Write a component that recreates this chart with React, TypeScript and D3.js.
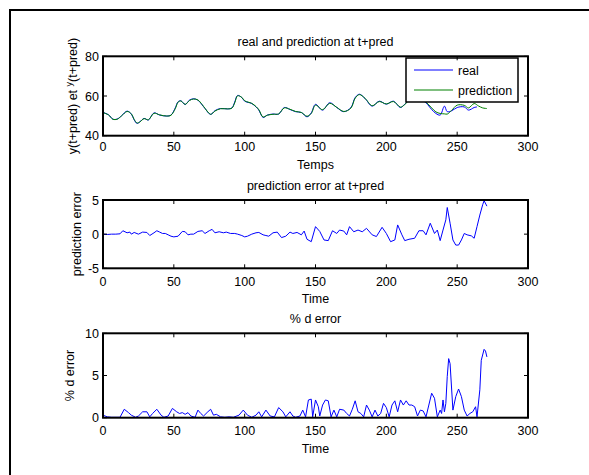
import React from "react";
import * as d3 from "d3";

// ---- data (t, value) ----
const realSeries: [number, number][] = [
  [0, 51.7], [4, 50.5], [7, 48.3], [10, 48.4], [13, 50], [17, 52.4], [20, 50.9], [22, 48], [24, 46.2],
  [26, 47], [29, 48.7], [32, 47.9], [36, 51.5], [40, 50.4], [45, 49.9], [48, 50.4], [51, 54], [53, 57.1],
  [55, 57.6], [58, 55.7], [61, 57.9], [64, 58.6], [67, 57.9], [70, 55.5], [72, 53.7], [76, 50.7],
  [79, 52.6], [83, 53.7], [88, 53.5], [91, 54], [93, 57], [95, 60.3], [98, 59.2], [100, 57.4],
  [105, 56.2], [108, 54.5], [110, 52.9], [113, 49.2], [116, 50.4], [120, 50.9], [124, 50.9],
  [128, 54.2], [132, 53.2], [136, 52.1], [140, 51.7], [144, 49.5], [147, 51.5], [150, 55.8],
  [155, 52.9], [160, 56.6], [165, 54.2], [170, 52.1], [175, 54.2], [178, 59.2], [181, 60.9],
  [185, 58.7], [190, 54.9], [195, 57.4], [200, 55.9], [205, 57.4], [210, 54.2], [213, 55.9],
  [216, 58], [219, 60], [222, 59.5], [225, 58], [228, 56.6], [232, 53.2], [235, 51.2], [238, 50.4],
  [241, 54.9], [243, 52.1], [246, 52.5], [250, 54.2], [255, 54.5], [258, 52.9], [262, 54.2], [264, 54.5],
];

const predictionSeries: [number, number][] = [
  [0, 51.7], [4, 50.4], [7, 48.3], [10, 48.3], [13, 49.9], [17, 52.2], [20, 51], [22, 48.2], [24, 46.4],
  [26, 46.9], [29, 48.6], [32, 48], [36, 51.3], [40, 50.5], [45, 49.9], [48, 50.3], [51, 53.6], [53, 56.9],
  [55, 57.5], [58, 55.8], [61, 57.7], [64, 58.5], [67, 58], [70, 55.7], [72, 53.8], [76, 50.8],
  [79, 52.4], [83, 53.6], [88, 53.5], [91, 53.9], [93, 56.6], [95, 60.1], [98, 59.3], [100, 57.6],
  [105, 56.3], [108, 54.7], [110, 53.1], [113, 49.4], [116, 50.3], [120, 50.8], [124, 51],
  [128, 54], [132, 53.3], [136, 52.2], [140, 51.7], [144, 49.8], [147, 51.2], [150, 55.4],
  [155, 53.1], [160, 56.3], [165, 54.3], [170, 52.2], [175, 53.9], [178, 58.9], [181, 60.7],
  [185, 58.8], [190, 55.1], [195, 57.2], [200, 56], [205, 57.2], [210, 54.4], [213, 55.7],
  [216, 57.8], [219, 59.8], [222, 59.6], [225, 58.2], [228, 56.9], [232, 54], [235, 52], [238, 51.2],
  [241, 51], [243, 50.9], [246, 52.7], [250, 55.4], [255, 55.3], [258, 54], [262, 56.2], [265, 55],
  [268, 54], [271, 53.7],
];

const errorSeries: [number, number][] = [
  [0, 0], [3, -0.05], [6, 0], [9, 0], [12, 0.05], [14, 0.5], [17, 0.2], [19, 0.3], [20, 0], [22, 0.25],
  [25, 0], [28, 0.3], [31, 0.25], [33, -0.2], [36, 0.2], [38, 0.5], [40, 0.3], [42, 0.1], [44, 0.1],
  [46, -0.1], [48, -0.3], [50, -0.4], [53, -0.3], [56, 0.4], [58, 0.35], [60, -0.1], [62, 0], [64, 0],
  [67, 0.4], [70, 0.5], [72, 0.1], [75, 0.5], [77, 0.7], [79, 0.2], [82, 0.35], [85, 0.2], [87, 0.3],
  [90, 0.1], [93, 0.1], [95, 0], [98, -0.2], [100, -0.4], [102, -0.3], [105, 0], [108, 0.2], [110, 0.25],
  [113, -0.1], [115, -0.2], [117, -0.3], [120, 0.2], [123, 0.3], [126, -0.5], [129, -0.3], [132, 0.3],
  [134, 0.1], [137, 0.25], [140, -0.1], [142, 0.45], [144, -0.75], [147, -1.1], [150, 1.1], [153, 0.4],
  [156, -0.85], [159, -0.95], [162, 0.5], [165, 0.1], [167, 0.6], [170, 0.45], [172, -0.1], [174, 1.1],
  [177, 0.35], [180, 0.6], [183, 0.35], [186, 0.85], [190, -0.1], [193, -0.35], [197, 1.0], [200, 0.1],
  [203, -1.1], [206, -0.85], [208, 1.35], [211, -0.1], [213, -0.95], [216, -0.75], [220, -0.6],
  [223, 0.5], [226, 0.5], [228, -0.1], [231, 1.6], [234, 0.1], [236, 0.6], [238, -0.95], [240, 0.6],
  [242, 2.1], [243, 3.9], [245, 1.6], [247, -0.85], [249, -1.6], [251, -1.6], [253, -0.85], [255, 0.1],
  [257, -0.1], [260, -0.25], [262, -0.6], [264, 1.1], [266, 2.8], [268, 4.3], [269, 4.9], [271, 4.1],
];

const percentSeries: [number, number][] = [
  [0, 0.3], [3, 0.1], [6, 0.05], [12, 0.05], [15, 1.0], [18, 0.6], [20, 0.3], [23, 0.05], [25, 0.2],
  [28, 0.7], [31, 0.7], [33, 0.1], [35, 0.5], [38, 1.0], [41, 0.3], [43, 0.05], [46, 0.2], [49, 1.1],
  [52, 0.7], [54, 0.5], [56, 0.6], [58, 0.4], [60, 0.6], [62, 0.2], [65, 0.05], [67, 0.9], [69, 0.5],
  [71, 0.2], [74, 0.7], [76, 1.0], [78, 0.3], [80, 0.4], [83, 0.1], [86, 0.05], [89, 0.1], [92, 0.05],
  [96, 0.3], [99, 0.9], [102, 0.3], [105, 0.05], [108, 0.3], [110, 0.7], [112, 0.1], [115, 0.9],
  [118, 0.2], [121, 0.1], [124, 1.2], [127, 0.7], [129, 0.1], [132, 0.7], [134, 0.2], [136, 0.05],
  [139, 0.2], [141, 0.9], [143, 0.1], [145, 2.1], [147, 2.2], [148, 0.1], [150, 2.1], [152, 1.3],
  [153, 0.2], [155, 1.5], [157, 2.1], [159, 2.0], [161, 0.1], [163, 0.9], [165, 0.1], [167, 1.0],
  [170, 0.9], [172, 0.5], [174, 0.2], [176, 1.0], [178, 2.0], [180, 0.7], [182, 0.5], [184, 0.1],
  [186, 1.5], [188, 0.9], [190, 0.1], [192, 0.9], [194, 0.2], [196, 0.5], [198, 1.7], [200, 1.2],
  [202, 0.1], [204, 1.5], [206, 2.0], [208, 0.7], [210, 2.1], [212, 1.5], [214, 2.0], [216, 1.5],
  [218, 1.5], [220, 1.3], [222, 0.2], [224, 0.9], [226, 0.8], [228, 0.1], [230, 1.5], [232, 2.9],
  [234, 2.3], [236, 0.1], [238, 0.9], [239, 0.5], [240, 2.1], [241, 0.7], [242, 1.7], [243, 4.9],
  [244, 7.0], [245, 6.4], [247, 0.9], [249, 2.5], [251, 3.4], [253, 2.5], [255, 0.9], [257, 0.2],
  [259, 0.5], [261, 0.7], [263, 1.3], [264, 0.1], [266, 3.3], [267, 6.8], [269, 8.1], [270, 7.9],
  [271, 7.2],
];

const xTicks = [0, 50, 100, 150, 200, 250, 300];
const yTicksTop = [40, 60, 80];
const yTicksMid = [-5, 0, 5];
const yTicksBot = [0, 5, 10];
const legendLabels = ["real", "prediction"];

const FONT = "'Liberation Sans', Arial, sans-serif";
const FS = 12.5;
const LEFT = 103;
const RIGHT = 528;
const BLUE = "#0000ff";
const GREEN = "#008000";

type PanelProps = {
  top: number;
  bottom: number;
  yDomain: [number, number];
  yTicks: number[];
  title: string;
  xlabel: string;
  ylabel: React.ReactNode;
  ylabelX: number;
  tickGap: number;
  xlabelGap: number;
  children: (x: d3.ScaleLinear<number, number>, y: d3.ScaleLinear<number, number>) => React.ReactNode;
};

function Panel(p: PanelProps) {
  const x = d3.scaleLinear().domain([0, 300]).range([LEFT, RIGHT]);
  const y = d3.scaleLinear().domain(p.yDomain).range([p.bottom, p.top]);
  const tl = 4;
  const cy = (p.top + p.bottom) / 2;
  return (
    <g>
      {p.children(x, y)}
      {/* ticks */}
      {xTicks.map((t) => (
        <g key={"xt" + t}>
          <line x1={x(t)} x2={x(t)} y1={p.bottom} y2={p.bottom - tl} stroke="#000" strokeWidth={1} />
          <line x1={x(t)} x2={x(t)} y1={p.top} y2={p.top + tl} stroke="#000" strokeWidth={1} />
          <text x={x(t)} y={p.bottom + p.tickGap} textAnchor="middle" fontSize={FS} fontFamily={FONT}>
            {t}
          </text>
        </g>
      ))}
      {p.yTicks.map((t) => (
        <g key={"yt" + t}>
          <line x1={LEFT} x2={LEFT + tl} y1={y(t)} y2={y(t)} stroke="#000" strokeWidth={1} />
          <line x1={RIGHT} x2={RIGHT - tl} y1={y(t)} y2={y(t)} stroke="#000" strokeWidth={1} />
          <text x={LEFT - 4} y={y(t) + 4.5} textAnchor="end" fontSize={FS} fontFamily={FONT}>
            {t}
          </text>
        </g>
      ))}
      <rect x={LEFT} y={p.top} width={RIGHT - LEFT} height={p.bottom - p.top} fill="none" stroke="#000" strokeWidth={2} />
      <text x={(LEFT + RIGHT) / 2} y={p.top - 10} textAnchor="middle" fontSize={FS} fontFamily={FONT}>
        {p.title}
      </text>
      <text x={(LEFT + RIGHT) / 2} y={p.bottom + p.xlabelGap} textAnchor="middle" fontSize={FS} fontFamily={FONT}>
        {p.xlabel}
      </text>
      <text
        transform={`translate(${p.ylabelX},${cy}) rotate(-90)`}
        textAnchor="middle"
        fontSize={FS}
        fontFamily={FONT}
      >
        {p.ylabel}
      </text>
    </g>
  );
}

export default function App() {
  const smooth = (x: any, y: any) =>
    d3
      .line<[number, number]>()
      .x((d) => x(d[0]))
      .y((d) => y(d[1]))
      .curve(d3.curveCatmullRom.alpha(0.5));
  const lin = (x: any, y: any) =>
    d3
      .line<[number, number]>()
      .x((d) => x(d[0]))
      .y((d) => y(d[1]));

  return (
    <svg
      width={589}
      height={475}
      style={{ position: "absolute", left: 0, top: 0, background: "#fff" }}
    >
      <rect x={0} y={0} width={589} height={475} fill="#fff" />
      <rect x={10} y={10} width={620} height={520} fill="none" stroke="#000" strokeWidth={2} />

      <Panel
        top={56.3}
        bottom={135.7}
        yDomain={[40, 80]}
        yTicks={yTicksTop}
        title="real and prediction at t+pred"
        xlabel="Temps"
        ylabel={
          <>
            <tspan>y(t+pred) et </tspan>
            <tspan fontSize={9} dy={-5}>y</tspan>
            <tspan dy={5}>(t+pred)</tspan>
          </>
        }
        ylabelX={77}
        tickGap={15}
        xlabelGap={33}
      >
        {(x, y) => (
          <g>
            <path d={smooth(x, y)(realSeries) || ""} fill="none" stroke={BLUE} strokeWidth={1} />
            <path d={smooth(x, y)(predictionSeries) || ""} fill="none" stroke={GREEN} strokeWidth={1} />
            <rect x={406} y={58} width={112} height={44} fill="#fff" stroke="#000" strokeWidth={1.5} />
            <line x1={414} x2={453} y1={70} y2={70} stroke={BLUE} strokeWidth={1} />
            <line x1={414} x2={453} y1={90} y2={90} stroke={GREEN} strokeWidth={1} />
            <text x={458} y={74.5} fontSize={FS} fontFamily={FONT}>{legendLabels[0]}</text>
            <text x={458} y={94.5} fontSize={FS} fontFamily={FONT}>{legendLabels[1]}</text>
          </g>
        )}
      </Panel>

      <Panel
        top={200}
        bottom={268.3}
        yDomain={[-5, 5]}
        yTicks={yTicksMid}
        title="prediction error at t+pred"
        xlabel="Time"
        ylabel="prediction error"
        ylabelX={81}
        tickGap={17.5}
        xlabelGap={35}
      >
        {(x, y) => <path d={lin(x, y)(errorSeries) || ""} fill="none" stroke={BLUE} strokeWidth={1} />}
      </Panel>

      <Panel
        top={333.3}
        bottom={417.7}
        yDomain={[0, 10]}
        yTicks={yTicksBot}
        title="% d error"
        xlabel="Time"
        ylabel="% d error"
        ylabelX={74}
        tickGap={17.5}
        xlabelGap={35}
      >
        {(x, y) => <path d={lin(x, y)(percentSeries) || ""} fill="none" stroke={BLUE} strokeWidth={1} />}
      </Panel>
    </svg>
  );
}
